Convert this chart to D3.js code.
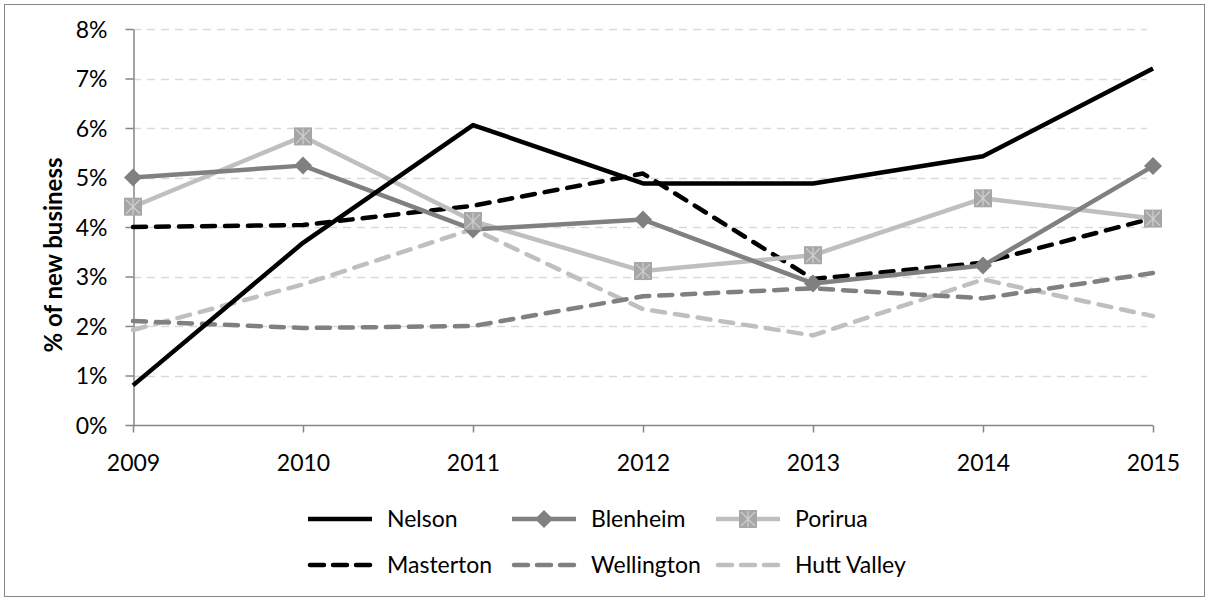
<!DOCTYPE html>
<html>
<head>
<meta charset="utf-8">
<script src="https://cdn.jsdelivr.net/npm/d3@7"></script>
<style>
  body { margin: 0; background: #fff; }
  svg text { font-family: Lato, "Open Sans", sans-serif; fill: #000; }
</style>
</head>
<body>
<div id="chartContainer"></div>
<script>
// data (percent of new business)
var years = ["2009", "2010", "2011", "2012", "2013", "2014", "2015"];
var nelson     = [0.80, 3.68, 6.06, 4.88, 4.88, 5.43, 7.20];
var blenheim   = [5.00, 5.24, 3.95, 4.15, 2.86, 3.22, 5.23];
var porirua    = [4.41, 5.83, 4.12, 3.11, 3.43, 4.58, 4.17];
var masterton  = [4.00, 4.04, 4.43, 5.08, 2.95, 3.28, 4.18];
var wellington = [2.10, 1.96, 2.00, 2.60, 2.76, 2.56, 3.07];
var huttValley = [1.92, 2.84, 3.96, 2.34, 1.81, 2.94, 2.20];
var yTicks = [0, 1, 2, 3, 4, 5, 6, 7, 8];

var seriesList = [
    {name: "Nelson",      values: nelson,     color: "#000000", dash: null,    marker: null},
    {name: "Blenheim",    values: blenheim,   color: "#808080", dash: null,    marker: "diamond"},
    {name: "Porirua",     values: porirua,    color: "#bfbfbf", dash: null,    marker: "square"},
    {name: "Masterton",   values: masterton,  color: "#000000", dash: "13,10", marker: null},
    {name: "Wellington",  values: wellington, color: "#808080", dash: "13,10", marker: null},
    {name: "Hutt Valley", values: huttValley, color: "#bfbfbf", dash: "13,10", marker: null}
];

const W = 1209, H = 601;
const plot = {left: 133, right: 1153, top: 29, bottom: 425};

const svg = d3.select("#chartContainer")
    .append("svg")
    .attr("width", W)
    .attr("height", H);

// outer border
svg.append("rect")
    .attr("x", 4.5).attr("y", 4.5)
    .attr("width", W - 9).attr("height", H - 9)
    .attr("fill", "#fff")
    .attr("stroke", "#868686")
    .attr("stroke-width", 1);

const xScale = d3.scalePoint()
    .domain(years)
    .range([plot.left, plot.right]);

const yScale = d3.scaleLinear()
    .domain([0, 8])
    .range([plot.bottom, plot.top]);

// gridlines
svg.append("g")
    .selectAll("line")
    .data(yTicks.filter(d => d > 0))
    .join("line")
    .attr("x1", plot.left)
    .attr("x2", plot.right - 6)
    .attr("y1", d => Math.round(yScale(d)) + 0.5)
    .attr("y2", d => Math.round(yScale(d)) + 0.5)
    .attr("stroke", "#d9d9d9")
    .attr("stroke-width", 1.5)
    .attr("stroke-dasharray", "8,6");

// y axis
const yAxis = svg.append("g")
    .attr("transform", `translate(${plot.left + 0.5},0)`)
    .call(d3.axisLeft(yScale).tickValues(yTicks).tickFormat(d => d + "%").tickSize(8).tickPadding(18).tickSizeOuter(0));
yAxis.selectAll("path, line").attr("stroke", "#868686").attr("stroke-width", 1.5);
yAxis.selectAll("text").style("font-size", "23px").attr("dy", "0.36em");

// x axis
const xAxis = svg.append("g")
    .attr("transform", `translate(0,${plot.bottom + 0.5})`)
    .call(d3.axisBottom(xScale).tickSize(7).tickPadding(22).tickSizeOuter(0));
xAxis.selectAll("path, line").attr("stroke", "#868686").attr("stroke-width", 1.5);
xAxis.select(".domain").attr("d", `M${plot.left},0H${plot.right}`);
xAxis.selectAll("text").style("font-size", "23px");

// y axis title
svg.append("text")
    .attr("transform", `translate(62,255) rotate(-90)`)
    .attr("text-anchor", "middle")
    .style("font-size", "24px")
    .style("font-weight", "bold")
    .text("% of new business");

const line = d3.line()
    .x((d, i) => xScale(years[i]))
    .y(d => yScale(d));

// draw in reverse so Nelson sits on top
const drawOrder = seriesList.slice().reverse();
drawOrder.forEach(function(s){
    svg.append("path")
        .datum(s.values)
        .attr("d", line)
        .attr("fill", "none")
        .attr("stroke", s.color)
        .attr("stroke-width", 4.5)
        .attr("stroke-linejoin", "round")
        .attr("stroke-linecap", s.dash ? "round" : "butt")
        .attr("stroke-dasharray", s.dash);
});

function drawMarker(g, type, x, y){
    if(type == "diamond"){
        g.append("path")
            .attr("d", `M${x},${y - 9}L${x + 9},${y}L${x},${y + 9}L${x - 9},${y}Z`)
            .attr("fill", "#808080");
    } else if(type == "square"){
        g.append("rect")
            .attr("x", x - 9).attr("y", y - 9)
            .attr("width", 18).attr("height", 18)
            .attr("fill", "#a6a6a6");
        g.append("path")
            .attr("d", `M${x - 7},${y - 7}L${x + 7},${y + 7}M${x + 7},${y - 7}L${x - 7},${y + 7}M${x},${y - 8}V${y + 8}`)
            .attr("stroke", "#d0d0d0")
            .attr("stroke-width", 1.2);
    }
}

// markers
seriesList.filter(s => s.marker).forEach(function(s){
    const g = svg.append("g");
    s.values.forEach(function(v, i){
        drawMarker(g, s.marker, xScale(years[i]), yScale(v));
    });
});

// legend
const legendCols = [308, 512, 716];
const legendRows = [519, 565];
seriesList.forEach(function(s, i){
    const lx = legendCols[i % 3];
    const ly = legendRows[Math.floor(i / 3)];
    const g = svg.append("g");
    g.append("line")
        .attr("x1", lx + (s.dash ? 2 : 0)).attr("x2", lx + (s.dash ? 62 : 64))
        .attr("y1", ly).attr("y2", ly)
        .attr("stroke", s.color)
        .attr("stroke-width", 4.5)
        .attr("stroke-linecap", s.dash ? "round" : "butt")
        .attr("stroke-dasharray", s.dash ? "14,9" : null);
    if(s.marker) drawMarker(g, s.marker, lx + 32, ly);
    g.append("text")
        .attr("x", lx + 79)
        .attr("y", ly)
        .attr("dy", "0.36em")
        .style("font-size", "23px")
        .text(s.name);
});
</script>
</body>
</html>
